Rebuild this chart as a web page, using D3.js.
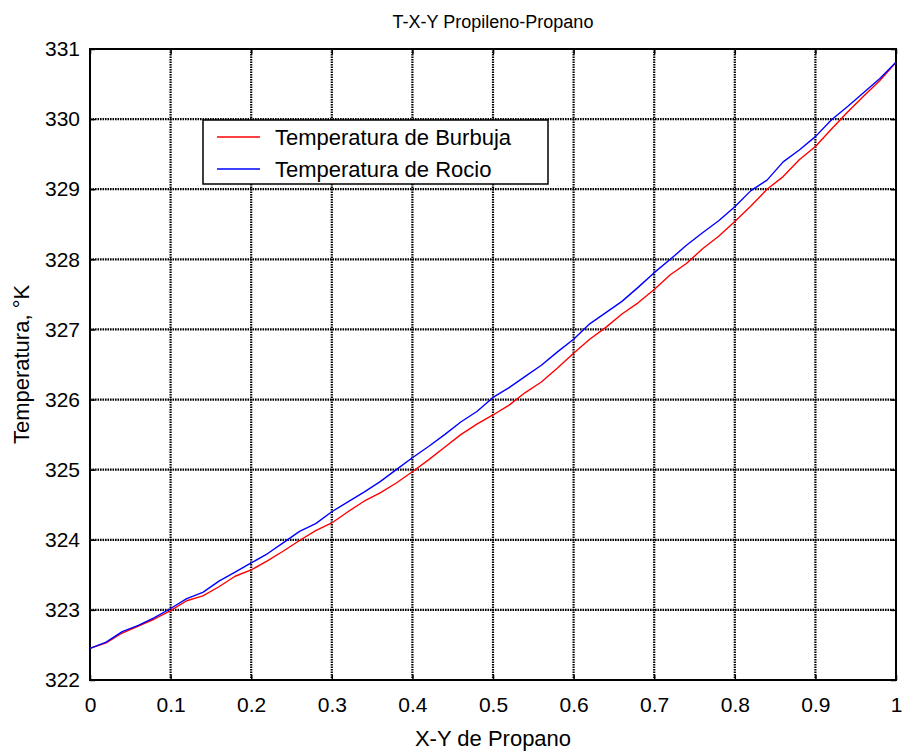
<!DOCTYPE html>
<html>
<head>
<meta charset="utf-8">
<script src="https://cdn.jsdelivr.net/npm/d3@7"></script>
<style>
  html, body { margin: 0; padding: 0; background: #fff; }
  svg { display: block; font-family: Arial, "Liberation Sans", Helvetica, sans-serif; }
</style>
</head>
<body>
<svg id="chart" width="904" height="755"></svg>
<script>
// Mole fraction of propane (liquid X / vapour Y)
const composition = [0, 0.02, 0.04, 0.06, 0.08, 0.10, 0.12, 0.14, 0.16, 0.18,
  0.20, 0.22, 0.24, 0.26, 0.28, 0.30, 0.32, 0.34, 0.36, 0.38,
  0.40, 0.42, 0.44, 0.46, 0.48, 0.50, 0.52, 0.54, 0.56, 0.58,
  0.60, 0.62, 0.64, 0.66, 0.68, 0.70, 0.72, 0.74, 0.76, 0.78,
  0.80, 0.82, 0.84, 0.86, 0.88, 0.90, 0.92, 0.94, 0.96, 0.98, 1.00];

// Bubble-point temperature, K
const bubbleT = [322.45, 322.53, 322.67, 322.77, 322.87, 322.99, 323.13, 323.20, 323.33, 323.48,
  323.57, 323.70, 323.84, 323.99, 324.13, 324.24, 324.40, 324.55, 324.67, 324.81,
  324.97, 325.14, 325.32, 325.50, 325.65, 325.78, 325.92, 326.10, 326.25, 326.45,
  326.66, 326.86, 327.03, 327.22, 327.38, 327.57, 327.78, 327.94, 328.15, 328.33,
  328.54, 328.76, 329.00, 329.18, 329.42, 329.61, 329.86, 330.10, 330.33, 330.55, 330.81];

// Dew-point temperature, K
const dewT = [322.45, 322.54, 322.69, 322.78, 322.89, 323.02, 323.16, 323.25, 323.41, 323.54,
  323.67, 323.80, 323.96, 324.12, 324.23, 324.40, 324.54, 324.68, 324.83, 325.00,
  325.17, 325.33, 325.50, 325.68, 325.83, 326.03, 326.17, 326.33, 326.49, 326.68,
  326.86, 327.08, 327.24, 327.40, 327.60, 327.81, 328.00, 328.20, 328.38, 328.55,
  328.75, 328.98, 329.13, 329.39, 329.56, 329.75, 329.99, 330.18, 330.38, 330.58, 330.81];

const xTicks = [0, 0.1, 0.2, 0.3, 0.4, 0.5, 0.6, 0.7, 0.8, 0.9, 1];
const yTicks = [322, 323, 324, 325, 326, 327, 328, 329, 330, 331];

const seriesNames = ["Temperatura de Burbuja", "Temperatura de Rocio"];
const seriesColors = ["#ff0000", "#0000ff"];

const titleText = "T-X-Y Propileno-Propano";
const xLabelText = "X-Y de Propano";
const yLabelText = "Temperatura, °K";

const svg = d3.select("#chart");
const plot = { left: 90, top: 49, right: 896, bottom: 680 };

const x = d3.scaleLinear().domain([0, 1]).range([plot.left, plot.right]);
const y = d3.scaleLinear().domain([322, 331]).range([plot.bottom, plot.top]);

// dotted grid
const grid = svg.append("g")
  .attr("stroke", "#000").attr("stroke-width", 2.2).attr("stroke-dasharray", "1.6,0.9");
grid.selectAll("line.v").data(xTicks.slice(1, -1)).join("line")
  .attr("x1", d => x(d)).attr("x2", d => x(d))
  .attr("y1", plot.top).attr("y2", plot.bottom);
grid.selectAll("line.h").data(yTicks.slice(1, -1)).join("line")
  .attr("x1", plot.left).attr("x2", plot.right)
  .attr("y1", d => y(d)).attr("y2", d => y(d));

// axes with inward ticks on all four sides
const tickLen = 5;
const bottomAxis = svg.append("g").attr("transform", `translate(0,${plot.bottom})`)
  .call(d3.axisBottom(x).tickValues(xTicks).tickSizeInner(-tickLen).tickSizeOuter(0).tickPadding(17)
    .tickFormat(d => d3.format("~g")(d)));
const topAxis = svg.append("g").attr("transform", `translate(0,${plot.top})`)
  .call(d3.axisTop(x).tickValues(xTicks).tickSizeInner(-tickLen).tickSizeOuter(0).tickFormat(""));
const leftAxis = svg.append("g").attr("transform", `translate(${plot.left},0)`)
  .call(d3.axisLeft(y).tickValues(yTicks).tickSizeInner(-tickLen).tickSizeOuter(0).tickPadding(10)
    .tickFormat(d3.format("d")));
const rightAxis = svg.append("g").attr("transform", `translate(${plot.right},0)`)
  .call(d3.axisRight(y).tickValues(yTicks).tickSizeInner(-tickLen).tickSizeOuter(0).tickFormat(""));

[bottomAxis, topAxis, leftAxis, rightAxis].forEach(g => {
  g.select(".domain").remove();
  g.selectAll(".tick line").attr("stroke", "#000").attr("stroke-width", 1.5);
  g.selectAll(".tick text").attr("fill", "#000")
    .style("font-family", "Arial, 'Liberation Sans', sans-serif").style("font-size", "21px");
});

// frame
svg.append("rect")
  .attr("x", plot.left).attr("y", plot.top)
  .attr("width", plot.right - plot.left).attr("height", plot.bottom - plot.top)
  .attr("fill", "none").attr("stroke", "#000").attr("stroke-width", 2);

// curves
const line = d3.line().x(d => x(d[0])).y(d => y(d[1]));
const series = [bubbleT, dewT];
series.forEach((vals, i) => {
  svg.append("path")
    .datum(composition.map((c, k) => [c, vals[k]]))
    .attr("fill", "none")
    .attr("stroke", seriesColors[i])
    .attr("stroke-width", 1.4)
    .attr("stroke-linejoin", "round")
    .attr("d", line);
});

// legend
const legend = svg.append("g").attr("transform", "translate(203,120)");
legend.append("rect")
  .attr("width", 345).attr("height", 64)
  .attr("fill", "#fff").attr("stroke", "#000").attr("stroke-width", 1.5);
seriesNames.forEach((name, i) => {
  const ly = 17 + i * 32;
  legend.append("line")
    .attr("x1", 14).attr("x2", 57).attr("y1", ly).attr("y2", ly)
    .attr("stroke", seriesColors[i]).attr("stroke-width", 1.3);
  legend.append("text")
    .attr("x", 72).attr("y", ly + 8)
    .attr("font-size", 22).attr("fill", "#000")
    .text(name);
});

// title and axis labels
svg.append("text")
  .attr("x", (plot.left + plot.right) / 2).attr("y", 28)
  .attr("text-anchor", "middle").attr("font-size", 18).attr("fill", "#000")
  .text(titleText);
svg.append("text")
  .attr("x", (plot.left + plot.right) / 2).attr("y", 746)
  .attr("text-anchor", "middle").attr("font-size", 22).attr("fill", "#000")
  .text(xLabelText);
svg.append("text")
  .attr("transform", `translate(29,${(plot.top + plot.bottom) / 2}) rotate(-90)`)
  .attr("text-anchor", "middle").attr("font-size", 22).attr("fill", "#000")
  .text(yLabelText);
</script>
</body>
</html>
